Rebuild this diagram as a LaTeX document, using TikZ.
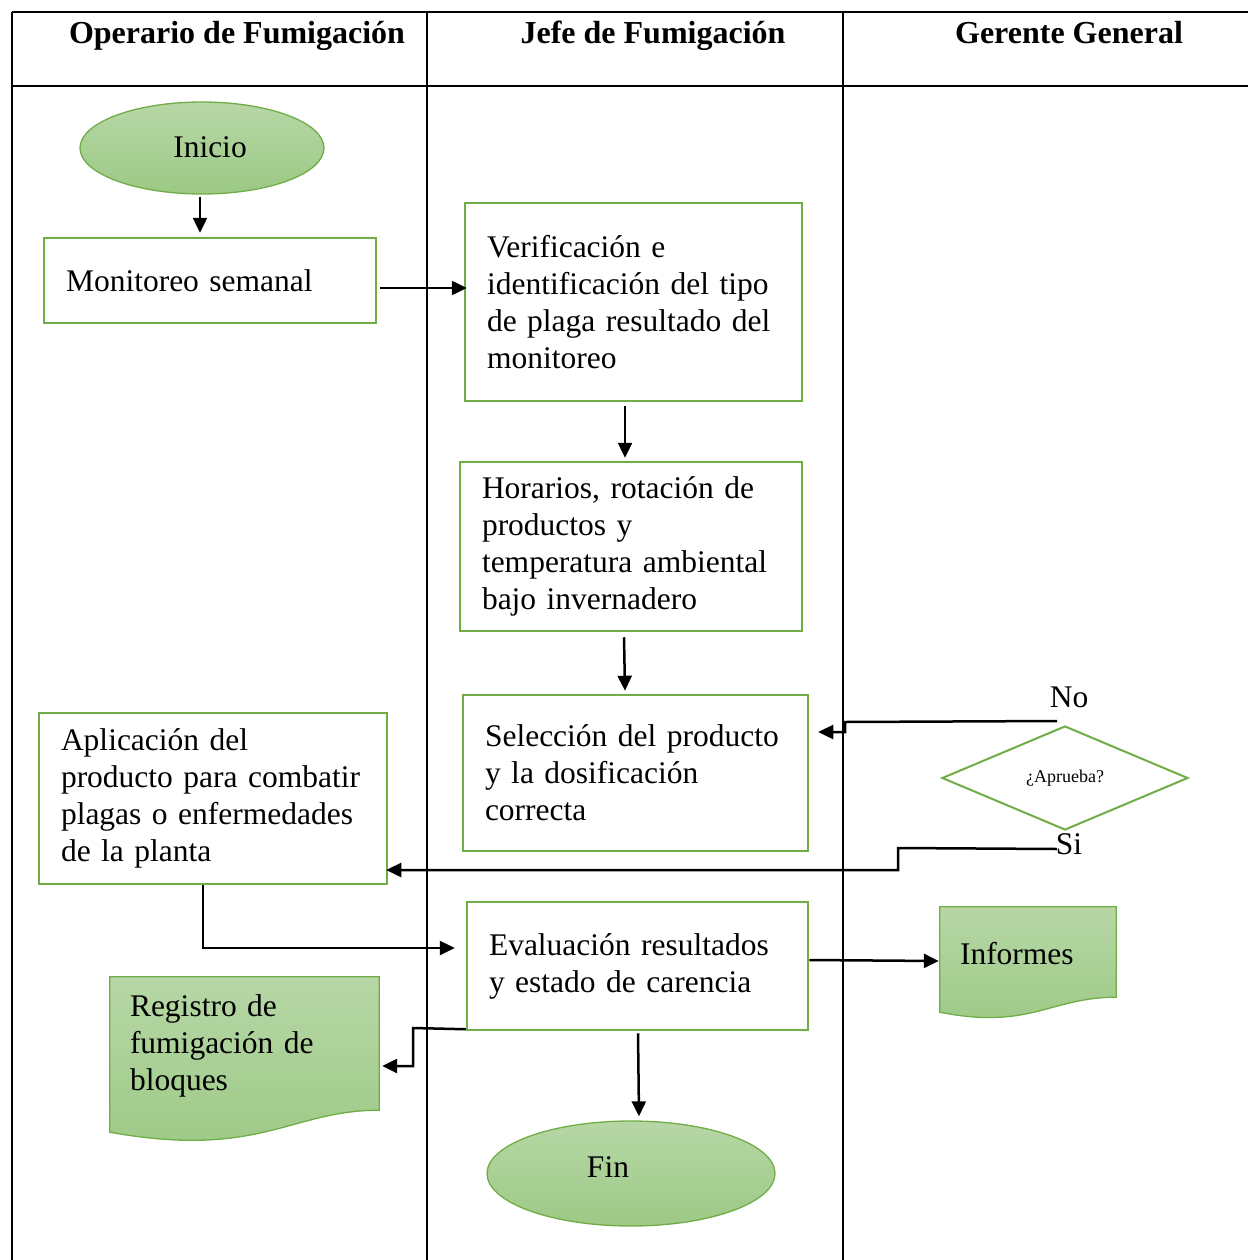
\documentclass[tikz,border=0pt]{standalone}
\usepackage{fontspec}
\setmainfont{Liberation Serif}
\usetikzlibrary{shapes.geometric,arrows.meta,calc,backgrounds}
\definecolor{frameGreen}{RGB}{112,173,71}
\definecolor{fillTop}{RGB}{183,215,166}
\definecolor{fillBot}{RGB}{156,201,133}
\begin{document}
\begin{tikzpicture}[x=1pt,y=-1pt,
  every node/.style={font=\fontsize{31.5}{37}\selectfont},
  procbox/.style={rectangle, draw=frameGreen, line width=2.5pt, fill=white,
    inner xsep=22pt, inner ysep=0pt, align=left},
  term/.style={ellipse, draw=frameGreen, line width=1.3pt,
    top color=fillTop, bottom color=fillBot, inner sep=0pt},
  docnode/.style={rectangle, inner xsep=20pt, inner ysep=0pt, align=left},
  docshape/.style={draw=frameGreen, line width=1.3pt, top color=fillTop, bottom color=fillBot},
  decision/.style={diamond, draw=frameGreen, line width=2pt, inner sep=0pt,
    minimum width=246pt, minimum height=104pt, font=\fontsize{18}{21}\selectfont},
  flow/.style={line width=2.5pt, -{Triangle[length=15pt,width=14pt]}},
  rule/.style={line width=2pt},
  header/.style={anchor=base, font=\fontsize{32}{37}\selectfont\bfseries}
]
\useasboundingbox (0,0) rectangle (1248,1260);

% swimlane table
\draw[rule] (12,12) -- (1248,12);
\draw[rule] (12,86) -- (1248,86);
\draw[rule] (12,12) -- (12,1260);
\draw[rule] (427,12) -- (427,1260);
\draw[rule] (843,12) -- (843,1260);

\node[header] (hdA) at (237,44) {Operario de Fumigación};
\node[header] (hdB) at (653,44) {Jefe de Fumigación};
\node[header] (hdC) at (1069,44) {Gerente General};

% terminals
\node[term, minimum width=244pt, minimum height=92pt] (ini) at (202,148) {};
\node (iniT) at (210,147) {Inicio};
\node[term, minimum width=288pt, minimum height=105pt] (fin) at (631,1173.5) {};
\node (finT) at (608,1167) {Fin};

% process steps
\node[procbox, text width=288pt, minimum height=85pt] (mon) at (210,280.5) {Monitoreo semanal};
\node[procbox, text width=293pt, minimum height=198pt] (ver) at (633.5,302)
  {Verificación e\\identificación del tipo\\de plaga resultado del\\monitoreo};
\node[procbox, text width=298pt, minimum height=169pt] (hor) at (631,546.5)
  {Horarios, rotación de\\productos y\\temperatura ambiental\\bajo invernadero};
\node[procbox, text width=301pt, minimum height=156pt] (sel) at (635.5,773)
  {Selección del producto\\y la dosificación\\correcta};
\node[procbox, text width=304pt, minimum height=171pt] (apl) at (213,798.5)
  {Aplicación del\\producto para combatir\\plagas o enfermedades\\de la planta};
\node[procbox, text width=297pt, minimum height=128pt] (eva) at (637.5,966)
  {Evaluación resultados\\y estado de carencia};

% decision
\node[decision] (dec) at (1065,778) {¿Aprueba?};
\node (no) at (1069,697) {No};
\node (si) at (1069,844) {Si};

% documents
\node[docnode, text width=229pt, minimum width=269pt, minimum height=138pt] (reg) at (244.5,1046)
  {Registro de\\fumigación de\\bloques};
\node[docnode, text width=136pt, minimum width=176pt, minimum height=94pt] (inf) at (1028,954) {Informes};
\begin{scope}[on background layer]
  \path[docshape] (reg.north west) -- (reg.north east) -- ($(reg.south east)+(0,-5)$)
    .. controls ($(reg.south east)+(-89,-5)$) and ($(reg.south west)+(150,44)$)
    .. ($(reg.south west)+(0,17)$) -- cycle;
  \path[docshape] (inf.north west) -- (inf.north east) -- ($(inf.south east)+(0,-4)$)
    .. controls ($(inf.south east)+(-66,-4)$) and ($(inf.south west)+(90,29)$)
    .. ($(inf.south west)+(0,11)$) -- cycle;
\end{scope}

% connectors
\draw[flow] ($(ini.south)+(-2,2)$) -- ($(mon.north)+(-10,-4)$);
\draw[flow] ($(mon.east)+(3,7.5)$) -- ($(ver.west)+(3,-14)$);
\draw[flow] ($(ver.south)+(-8.5,4)$) -- ($(hor.north)+(-6,-3)$);
\draw[flow] ($(hor.south)+(-7,5)$) -- ($(sel.north)+(-10.5,-3)$);
\draw[flow] ($(dec.north)+(-8,-4)$) -- (845,722) -- (845,732) -- ($(sel.east)+(9,-41)$);
\draw[flow] ($(dec.south)+(-8,18)$) -- (898,848) -- (898,870) -- ($(apl.east)+(-2,71.5)$);
\draw[flow] ($(apl.south)+(-10,0)$) -- (203,948) -- ($(eva.west)+(-11,-18)$);
\draw[flow] ($(eva.east)+(0,-6)$) -- ($(inf.west)+(-1,7)$);
\draw[flow] ($(eva.south west)+(0,-2)$) -- (413,1028) -- (413,1066) -- ($(reg.east)+(3,20)$);
\draw[flow] ($(eva.south)+(0.5,2)$) -- ($(fin.north)+(8,-4)$);
\end{tikzpicture}
\end{document}
